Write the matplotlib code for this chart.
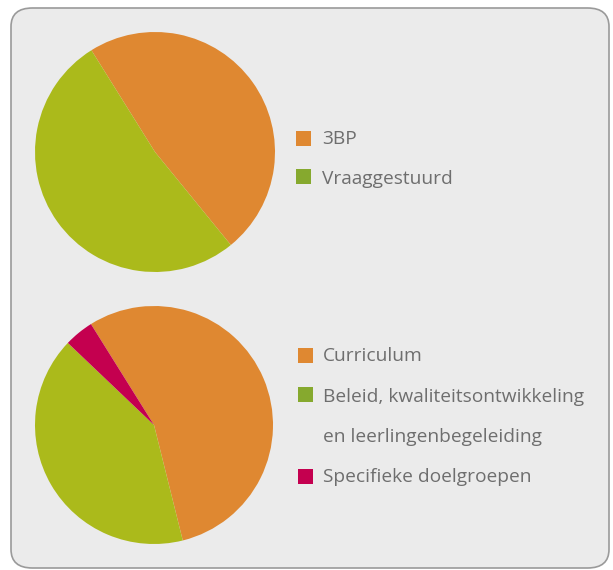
import matplotlib
matplotlib.use("Agg")
import matplotlib.pyplot as plt
from matplotlib.patches import FancyBboxPatch, Rectangle

# data
labels_top = ["3BP", "Vraaggestuurd"]
values_top = [48, 52]
labels_bottom = ["Curriculum", "Beleid, kwaliteitsontwikkeling\nen leerlingenbegeleiding", "Specifieke doelgroepen"]
values_bottom = [55, 41, 4]

ORANGE = "#df8831"
GREEN_PIE = "#abba1b"
GREEN_KEY = "#86a92e"
RED = "#c4004f"
TEXT = "#6e6e6e"

W, H = 613, 570
fig = plt.figure(figsize=(W / 100, H / 100), dpi=100)
fig.patch.set_facecolor("white")


def fx(px):
    return px / W


def fy(py):
    return 1 - py / H


# panel background
bg = FancyBboxPatch((fx(11), fy(568)), fx(598), (560) / H,
                    boxstyle="round,pad=0,rounding_size=0.035",
                    transform=fig.transFigure, facecolor="#ebebeb",
                    edgecolor="#9a9a9a", linewidth=1.2, mutation_aspect=H / W,
                    zorder=-10)
fig.patches.append(bg)


def draw_pie(cx, cy, r, values, colors):
    ax = fig.add_axes([fx(cx - r), fy(cy + r), 2 * r / W, 2 * r / H])
    ax.pie(values, colors=colors, startangle=122, counterclock=False,
           radius=1, wedgeprops=dict(linewidth=0))
    ax.set_xlim(-1, 1)
    ax.set_ylim(-1, 1)
    ax.axis("off")


draw_pie(155, 152, 120, values_top, [ORANGE, GREEN_PIE])
draw_pie(154, 425, 119, values_bottom, [ORANGE, GREEN_PIE, RED])

font = dict(family="Open Sans", fontsize=13.8, color=TEXT)


def key(x, y_top, color):
    fig.patches.append(Rectangle((fx(x), fy(y_top + 15)), 15 / W, 15 / H,
                                 transform=fig.transFigure, facecolor=color,
                                 edgecolor="none"))


# top legend
key(296, 131, ORANGE)
fig.text(fx(322), fy(144), labels_top[0], va="baseline", **font)
key(296, 169, GREEN_KEY)
fig.text(fx(322), fy(184), labels_top[1], va="baseline", **font)

# bottom legend
key(298, 348, ORANGE)
fig.text(fx(323), fy(361), labels_bottom[0], va="baseline", **font)
key(298, 387, GREEN_KEY)
line1, line2 = labels_bottom[1].split("\n")
fig.text(fx(323), fy(402), line1, va="baseline", **font)
fig.text(fx(323), fy(442), line2, va="baseline", **font)
key(298, 469, RED)
fig.text(fx(323), fy(482), labels_bottom[2], va="baseline", **font)

fig.savefig("out.png", dpi=100, facecolor=fig.get_facecolor())
